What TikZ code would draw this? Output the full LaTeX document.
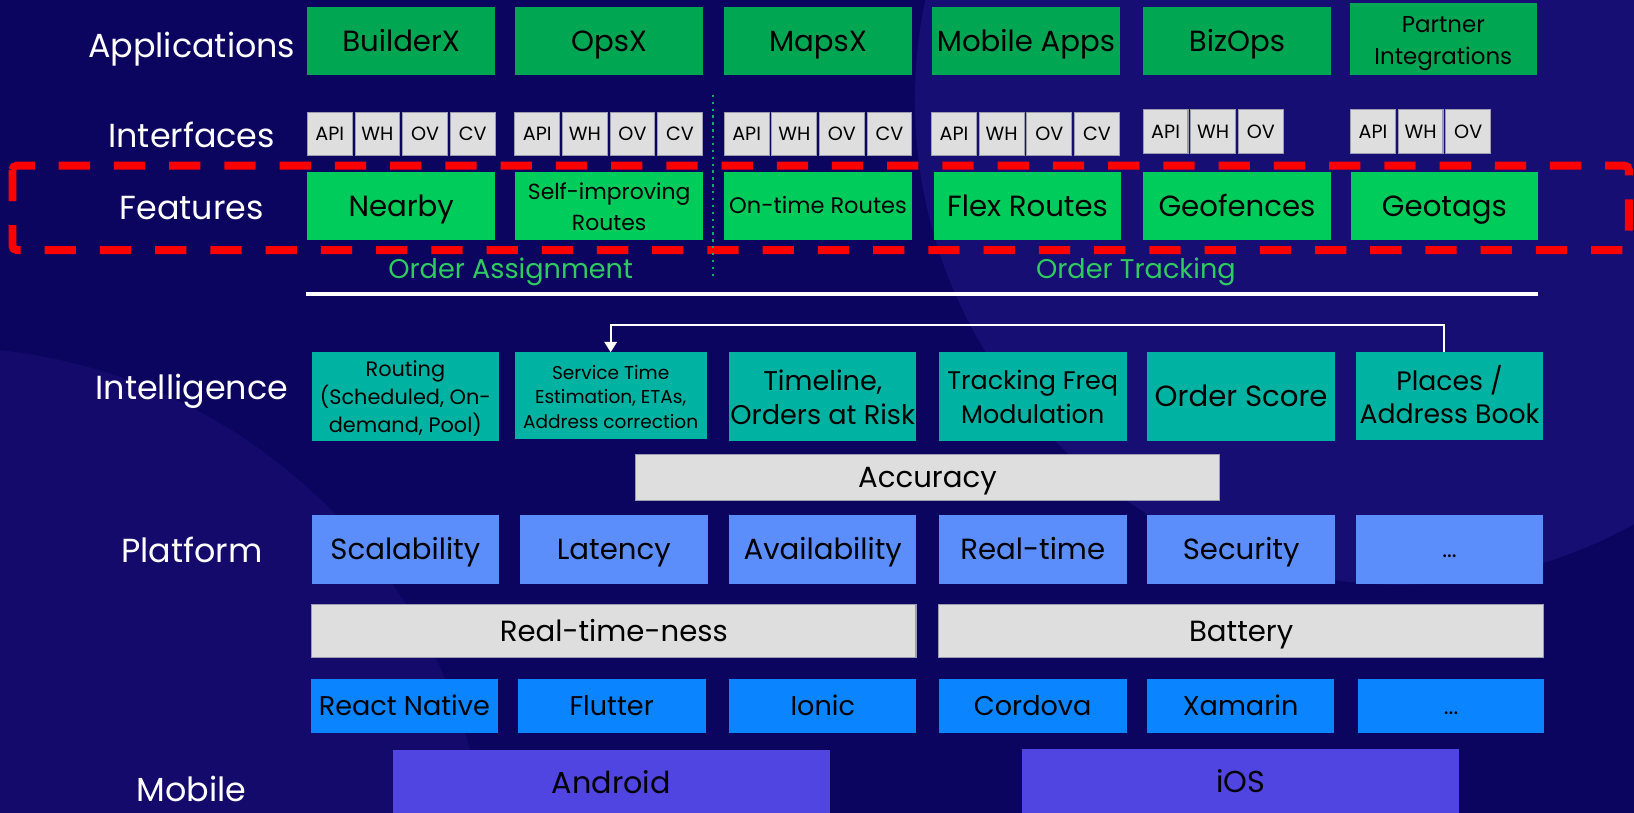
\documentclass[tikz,border=0pt]{standalone}
\usepackage{fontspec}
\setmainfont{Poppins}
\usetikzlibrary{arrows.meta}
\definecolor{bgdark}{HTML}{0B0560}
\definecolor{bgleft}{HTML}{140A6C}
\definecolor{bgright}{HTML}{170E73}
\definecolor{appg}{HTML}{00A651}
\definecolor{featg}{HTML}{00CC5C}
\definecolor{intel}{HTML}{00B2A2}
\definecolor{plat}{HTML}{5B8DFB}
\definecolor{fw}{HTML}{0A85FF}
\definecolor{mob}{HTML}{5045E0}
\definecolor{lgray}{HTML}{DEDEDE}
\definecolor{gborder}{HTML}{9C9CB0}
\definecolor{grtext}{HTML}{2ECC5E}
\definecolor{dotg}{HTML}{18A870}
\definecolor{redd}{HTML}{FF0000}
\newcommand{\fsz}[2]{\fontsize{#1}{#2}\selectfont}
% multi-line text, lowered by #1 without changing its box
\newcommand{\mlines}[2]{\raisebox{#1}[\height][\depth]{\begin{tabular}{@{}c@{}}#2\end{tabular}}}
\newcommand{\bx}[7]{%
  \pgfmathsetmacro\bxw{(#5-(#3))*0.5}%
  \pgfmathsetmacro\bxh{(#6-(#4))*0.5}%
  \pgfmathsetmacro\bxcx{((#3)+(#5))/2}%
  \pgfmathsetmacro\bxcy{((#4)+(#6))/2}%
  \node[#2, minimum width=\bxw pt, minimum height=\bxh pt] (#1) at (\bxcx,\bxcy) {#7};}
\tikzset{
  base/.style={inner sep=0pt, outer sep=0pt, align=center, text=black, draw=none, anchor=center},
  one/.style={text height=#1, text depth=0pt},
  lab/.style={text=white, font=\fsz{16}{19}, anchor=center, one=11.2pt},
  app/.style={base, fill=appg, font=\fsz{14}{15}},
  iface/.style={base, fill=lgray, draw=gborder, line width=0.5pt, font=\fsz{9.2}{11}, one=6.4pt},
  feat/.style={base, fill=featg, font=\fsz{14}{15}},
  intl/.style={base, fill=intel, font=\fsz{13}{16}},
  plt/.style={base, fill=plat, font=\fsz{14}{16}},
  gbar/.style={base, fill=lgray, draw=gborder, line width=0.5pt, font=\fsz{14}{16}, one=9.8pt},
  fwk/.style={base, fill=fw, font=\fsz{13}{16}, one=9.1pt},
  mobs/.style={base, fill=mob, font=\fsz{14.5}{16}, one=10.1pt},
  grp/.style={text=grtext, font=\fsz{13}{15}, one=9.1pt},
  reddash/.style={draw=redd, line width=3.8pt, dash pattern=on 15pt off 11.5pt, rounded corners=2pt},
  dotline/.style={draw=dotg, line width=1.1pt, dash pattern=on 1.1pt off 2.2pt},
  conn/.style={draw=white, line width=1pt},
}
\begin{document}
\begin{tikzpicture}[x=0.5pt,y=-0.5pt]
\useasboundingbox (0,0) rectangle (1568,780);
% background
\fill[bgdark] (0,0) rectangle (1568,780);
\begin{scope}
\clip (0,0) rectangle (1568,780);
\fill[bgleft] (-57,860) circle (527);
\fill[bgright] (1343,96) circle (465);
\draw[bgdark, line width=12pt, opacity=0.5] (1000,-60) arc (200:330:400);
\end{scope}

% row labels
\node[lab] (lApp) at (184,44) {Applications};
\node[lab] (lInt) at (184,130) {Interfaces};
\node[lab] (lFeat) at (184,199) {Features};
\node[lab] (lIntel) at (184,372) {Intelligence};
\node[lab] (lPlat) at (184,529) {Platform};
\node[lab] (lMob) at (184,758) {Mobile};

% applications
\bx{builderx}{app, one=9.8pt}{295}{6.5}{475}{72}{BuilderX}
\bx{opsx}{app, one=9.8pt}{494}{6.5}{675}{72}{OpsX}
\bx{mapsx}{app, one=9.8pt}{695}{6.5}{875}{72}{MapsX}
\bx{mobapps}{app, one=9.8pt}{894}{6.5}{1075}{72}{Mobile Apps}
\bx{bizops}{app, one=9.8pt}{1097}{6.5}{1277}{72}{BizOps}
\bx{partner}{app, font=\fsz{11}{15}}{1295}{3}{1475}{72}{\mlines{-1.55pt}{Partner\\Integrations}}

% interfaces
\foreach \g/\x in {a/295,b/494,c/695,d/894}{
  \bx{api\g}{iface}{\x}{108}{\x+43}{149}{API}
  \bx{wh\g}{iface}{\x+45.7}{108}{\x+88.7}{149}{WH}
  \bx{ov\g}{iface}{\x+91.4}{108}{\x+134.4}{149}{OV}
  \bx{cv\g}{iface}{\x+137.1}{108}{\x+180.1}{149}{CV}
}
\foreach \g/\x in {e/1097,f/1296}{
  \bx{api\g}{iface}{\x}{105.5}{\x+43}{147}{API}
  \bx{wh\g}{iface}{\x+45.7}{105.5}{\x+88.7}{147}{WH}
  \bx{ov\g}{iface}{\x+91.4}{105.5}{\x+134.4}{147}{OV}
}

% features
\bx{nearby}{feat, one=9.8pt}{295}{164.7}{475}{230.3}{Nearby}
\bx{selfimp}{feat, font=\fsz{10.5}{14.5}}{494}{164.7}{675}{230.3}{\mlines{-1.55pt}{Self-improving\\Routes}}
\bx{ontime}{feat, font=\fsz{10.8}{13}, one=7.6pt}{695}{164.7}{875}{230.3}{On-time Routes}
\bx{flex}{feat, one=9.8pt}{896}{164.7}{1076}{230.3}{Flex Routes}
\bx{geofences}{feat, one=9.8pt}{1097}{164.7}{1277}{230.3}{Geofences}
\bx{geotags}{feat, one=9.8pt}{1296}{164.7}{1476}{230.3}{Geotags}

% red dashed frame
\draw[reddash] (12,159) rectangle (1563,240);

% dotted separator
\coordinate (dtop) at (684,91);
\coordinate (dbot) at (684,267);
\draw[dotline] (dtop) -- (dbot);

% group labels
\node[grp] (oassign) at (490,258) {Order Assignment};
\node[grp] (otrack) at (1090,258) {Order Tracking};

% white rule
\coordinate (rl) at (294,282);
\coordinate (rr) at (1476,282);
\draw[white, line width=1.6pt] (rl) -- (rr);

% intelligence
\bx{routing}{intl, font=\fsz{10}{13.3}}{299}{338}{479}{423}{\mlines{-1.3pt}{Routing\\(Scheduled, On-\\demand, Pool)}}
\bx{service}{intl, font=\fsz{8.9}{11.8}}{494}{338}{678}{421}{\mlines{-1.7pt}{Service Time\\Estimation, ETAs,\\Address correction}}
\bx{timeline}{intl}{700}{338}{879}{423}{\mlines{-2.1pt}{Timeline,\\Orders at Risk}}
\bx{tracking}{intl, font=\fsz{12.2}{16}}{901}{338}{1081}{423}{\mlines{-1.55pt}{Tracking Freq\\Modulation}}
\bx{oscore}{intl, font=\fsz{14}{16}, one=9.8pt}{1101}{338}{1281}{423}{Order Score}
\bx{places}{intl, font=\fsz{12.8}{16}}{1301}{338}{1481}{422}{\mlines{-1.6pt}{Places /\\Address Book}}

% feedback arrow
\draw[conn, -{Triangle[width=6pt,length=5pt]}] ([xshift=-2.5pt]places.north) |- (586,311.5) -- (service.north);

% accuracy
\bx{accuracy}{gbar}{610}{436}{1170}{480}{Accuracy}

% platform
\bx{scal}{plt, one=9.8pt}{299}{494}{479}{560}{Scalability}
\bx{lat}{plt, one=9.8pt}{499}{494}{679}{560}{Latency}
\bx{avail}{plt, one=9.8pt}{700}{494}{879}{560}{Availability}
\bx{rtime}{plt, one=9.8pt}{901}{494}{1081}{560}{Real-time}
\bx{sec}{plt, one=9.8pt}{1101}{494}{1281}{560}{Security}
\bx{pmore}{plt, font=\fsz{11}{13}, one=7.7pt}{1301}{494}{1481}{560}{...}

% bars
\bx{rtn}{gbar}{299}{580}{879}{631}{Real-time-ness}
\bx{battery}{gbar}{901}{580}{1481}{631}{Battery}

% frameworks
\bx{react}{fwk}{298}{652}{478}{703}{React Native}
\bx{flutter}{fwk}{497}{652}{677}{703}{Flutter}
\bx{ionic}{fwk}{700}{652}{879}{703}{Ionic}
\bx{cordova}{fwk}{901}{652}{1081}{703}{Cordova}
\bx{xamarin}{fwk}{1101}{652}{1280}{703}{Xamarin}
\bx{fmore}{fwk, font=\fsz{11}{13}, one=7.7pt}{1303}{652}{1482}{703}{...}

% mobile
\bx{android}{mobs}{377}{720}{796}{782}{Android}
\bx{ios}{mobs}{981}{719}{1400}{782}{iOS}
\end{tikzpicture}
\end{document}
